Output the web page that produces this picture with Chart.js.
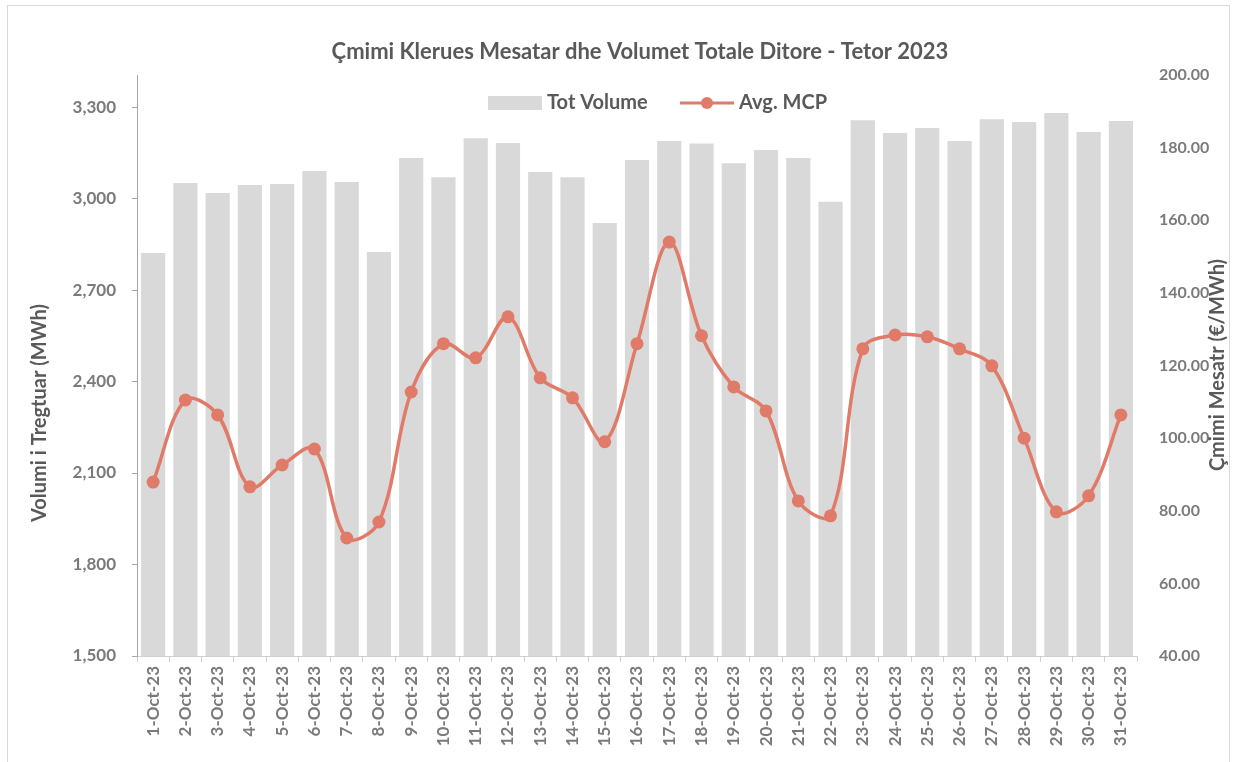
<!DOCTYPE html>
<html>
<head>
<meta charset="utf-8">
<script src="https://cdn.jsdelivr.net/npm/chart.js@4.4.1/dist/chart.umd.min.js"></script>
<style>
  html, body { margin: 0; padding: 0; background: #fff; }
  #wrap { position: relative; width: 1233px; height: 762px; }
  #frame { position: absolute; left: 7px; top: 5px; width: 1223px; height: 780px; border: 1px solid #d9d9d9; box-sizing: border-box; pointer-events: none; }
</style>
</head>
<body>
<div id="wrap">
  <canvas id="chart" width="1233" height="762"></canvas>
  <div id="frame"></div>
</div>
<script>
const days = [];
for (let d = 1; d <= 31; d++) days.push(d + '-Oct-23');

const totVolume = [2821, 3051, 3018, 3044, 3048, 3090, 3054, 2825, 3133, 3070,
                   3198, 3182, 3087, 3070, 2920, 3126, 3189, 3180, 3116, 3159,
                   3133, 2989, 3257, 3215, 3231, 3189, 3260, 3251, 3280, 3218, 3254];

const avgMcp = [87.9, 110.5, 106.4, 86.6, 92.6, 97.0, 72.5, 76.9, 112.7, 126.0,
                122.1, 133.4, 116.6, 111.1, 99.0, 126.0, 154.0, 128.2, 114.1, 107.5,
                82.7, 78.6, 124.6, 128.4, 127.9, 124.6, 119.9, 100.0, 79.7, 84.1, 106.4];

const chartTitle = 'Çmimi Klerues Mesatar dhe Volumet Totale Ditore - Tetor 2023';
const leftTitle = 'Volumi i Tregtuar (MWh)';
const rightTitle = 'Çmimi Mesatr (€/MWh)';

const barColor = '#d9d9d9';
const lineColor = '#e07b6a';
const textDark = '#595959';
const tickColor = '#7a7a7a';
const fontFamily = 'Lato, "Open Sans", sans-serif';

// texts and legend drawn on top, Excel style
const decorations = {
    id: 'decorations',
    afterDraw(chart) {
        const ctx = chart.ctx;
        ctx.save();
        ctx.fillStyle = textDark;
        ctx.textBaseline = 'middle';

        ctx.font = 'bold 22px ' + fontFamily;
        ctx.textAlign = 'center';
        ctx.fillText(chartTitle, 640, 52);

        // legend
        ctx.fillStyle = barColor;
        ctx.fillRect(488, 96, 54, 14);
        ctx.font = 'bold 20px ' + fontFamily;
        ctx.textAlign = 'left';
        ctx.fillStyle = textDark;
        ctx.fillText('Tot Volume', 547, 103);

        ctx.strokeStyle = lineColor;
        ctx.lineWidth = 3;
        ctx.beginPath();
        ctx.moveTo(680, 103);
        ctx.lineTo(734, 103);
        ctx.stroke();
        ctx.fillStyle = lineColor;
        ctx.beginPath();
        ctx.arc(707, 103, 6, 0, Math.PI * 2);
        ctx.fill();
        ctx.fillStyle = textDark;
        ctx.fillText('Avg. MCP', 739, 103);

        // axis titles
        ctx.font = 'bold 20px ' + fontFamily;
        ctx.textAlign = 'center';
        ctx.save();
        ctx.translate(40, 413);
        ctx.rotate(-Math.PI / 2);
        ctx.fillText(leftTitle, 0, 0);
        ctx.restore();

        ctx.save();
        ctx.translate(1218, 365);
        ctx.rotate(-Math.PI / 2);
        ctx.fillText(rightTitle, 0, 0);
        ctx.restore();

        ctx.restore();
    }
};

const ctx = document.getElementById('chart');

const mcpChart = new Chart(ctx, {
    type: 'bar',
    data: {
        labels: days,
        datasets: [
            {
                type: 'line',
                label: 'Avg. MCP',
                data: avgMcp,
                yAxisID: 'y1',
                borderColor: lineColor,
                backgroundColor: lineColor,
                borderWidth: 3.5,
                pointRadius: 6.5,
                pointHoverRadius: 6.5,
                pointBackgroundColor: lineColor,
                pointBorderWidth: 0,
                tension: 0.35,
                order: 0
            },
            {
                label: 'Tot Volume',
                data: totVolume,
                yAxisID: 'y',
                backgroundColor: barColor,
                barPercentage: 0.75,
                categoryPercentage: 1.0,
                order: 1
            }
        ]
    },
    options: {
        responsive: false,
        animation: false,
        layout: { padding: { top: 75, left: 0, right: 0, bottom: 0 } },
        plugins: {
            legend: { display: false },
            title: { display: false },
            tooltip: { enabled: false }
        },
        scales: {
            x: {
                offset: true,
                grid: {
                    offset: true,
                    drawOnChartArea: false,
                    drawTicks: true,
                    tickLength: 6,
                    color: '#d0d0d0'
                },
                border: { display: true, color: '#d0d0d0' },
                ticks: {
                    color: tickColor,
                    font: { family: fontFamily, size: 17, weight: 'bold' },
                    minRotation: 90,
                    maxRotation: 90,
                    autoSkip: false,
                    padding: 4
                },
                afterFit(scale) { scale.height = 106; }
            },
            y: {
                position: 'left',
                min: 1500,
                max: 3405,
                grid: {
                    drawOnChartArea: false,
                    drawTicks: true,
                    tickLength: 5,
                    color: '#a6a6a6'
                },
                border: { display: true, color: '#a6a6a6' },
                ticks: {
                    stepSize: 300,
                    color: tickColor,
                    padding: 16,
                    font: { family: fontFamily, size: 17, weight: 'bold' },
                    callback: v => v.toLocaleString('en-US')
                },
                afterBuildTicks(scale) {
                    scale.ticks = scale.ticks.filter(t => t.value % 300 === 0);
                },
                afterFit(scale) { scale.width = 137; }
            },
            y1: {
                position: 'right',
                min: 40,
                max: 200,
                grid: { display: false, drawOnChartArea: false },
                border: { display: false },
                ticks: {
                    stepSize: 20,
                    color: tickColor,
                    padding: 14,
                    font: { family: fontFamily, size: 16, weight: 'bold' },
                    callback: v => v.toFixed(2)
                },
                afterFit(scale) { scale.width = 96; }
            }
        }
    },
    plugins: [decorations]
});
</script>
</body>
</html>
